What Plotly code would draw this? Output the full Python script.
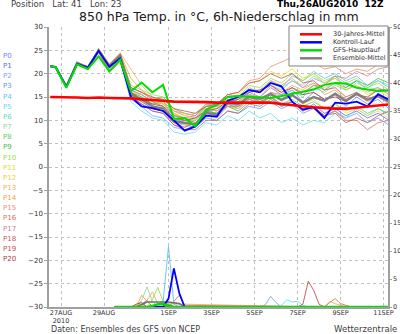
import plotly.graph_objects as go

# ---------------- data ----------------
HOURS = [0, 6, 18, 30, 42, 54, 66, 78, 90, 102, 114, 126, 138, 150, 162, 174, 186,
         198, 210, 222, 234, 246, 258, 270, 282, 294, 306, 318, 330, 342, 354, 366, 378]

TICK_HOURS = [12, 60, 132, 180, 228, 276, 324, 372]
TICK_TEXT = ["27AUG<br>2010", "29AUG", "1SEP", "3SEP", "5SEP", "7SEP", "9SEP", "11SEP"]

MEMBER_NAMES = ["P%d" % i for i in range(21)]
MEMBER_COLORS = ["#8080ff", "#6464f0", "#80a0ff", "#60a0f0", "#60c0ff", "#60e0f0",
                 "#60e0c0", "#90d8a0", "#60d060", "#40c040", "#98e048", "#e0e020",
                 "#f0d040", "#f0b060", "#f0a050", "#f08c70", "#e07060", "#d08080",
                 "#c06060", "#c05050", "#a04040"]

P0 = [21.6, 21.4, 17.2, 22.2, 21.3, 25.0, 21.7, 23.7, 15.0, 13.5, 12.0, 11.5, 9.0, 8.5, 9.5, 12.0, 11.5, 14.0, 13.0, 16.0, 15.0, 17.0, 15.5, 16.5, 14.0, 16.0, 14.5, 15.5, 13.0, 15.0, 13.5, 14.5, 12.5]
P1 = [21.6, 21.4, 17.2, 22.0, 21.1, 24.8, 21.4, 23.2, 16.0, 14.5, 13.0, 12.5, 10.5, 9.5, 10.0, 12.5, 12.0, 13.5, 12.5, 14.5, 13.5, 15.0, 13.0, 14.0, 12.0, 13.5, 11.5, 12.5, 11.0, 12.0, 10.5, 11.5, 10.0]
P2 = [21.6, 21.4, 17.3, 22.3, 21.4, 25.1, 21.9, 23.9, 14.5, 13.0, 11.0, 10.5, 8.5, 8.0, 9.0, 11.0, 10.5, 13.0, 12.5, 15.5, 15.0, 17.5, 16.5, 18.5, 17.0, 19.0, 18.0, 19.5, 17.0, 18.5, 16.5, 17.0, 15.5]
P3 = [21.6, 21.4, 17.1, 22.1, 21.2, 24.9, 21.5, 23.5, 15.5, 14.0, 12.5, 12.0, 9.5, 9.0, 8.5, 10.5, 10.0, 12.0, 11.5, 13.0, 12.5, 14.0, 12.5, 13.5, 11.5, 12.5, 11.0, 12.0, 10.5, 11.5, 9.5, 10.5, 9.0]
P4 = [21.6, 21.4, 17.2, 22.2, 21.3, 24.7, 21.0, 23.0, 16.5, 15.5, 14.0, 13.5, 11.0, 10.0, 10.5, 13.0, 12.5, 15.0, 14.5, 17.0, 16.0, 18.5, 17.0, 19.5, 18.5, 20.5, 19.0, 20.0, 18.5, 19.5, 17.5, 18.5, 17.0]
P5 = [21.6, 21.4, 17.2, 22.0, 21.0, 24.6, 20.8, 22.6, 14.0, 12.0, 10.5, 10.0, 7.5, 7.0, 7.5, 9.5, 9.0, 11.0, 10.0, 12.0, 10.5, 11.5, 9.5, 10.5, 9.0, 10.0, 9.5, 11.5, 10.5, 12.5, 11.0, 12.5, 11.0]
P6 = [21.6, 21.4, 17.3, 22.3, 21.4, 25.2, 22.0, 24.0, 15.0, 13.5, 12.5, 12.0, 10.0, 9.5, 10.0, 12.0, 11.5, 13.5, 13.0, 15.0, 14.5, 16.0, 15.0, 16.5, 15.0, 17.0, 16.0, 17.5, 16.5, 18.0, 17.0, 18.5, 17.5]
P7 = [21.6, 21.4, 17.2, 22.1, 21.2, 24.9, 21.6, 23.8, 16.5, 15.0, 14.0, 13.0, 11.5, 10.5, 10.0, 12.5, 12.0, 14.5, 14.0, 16.5, 16.0, 18.0, 17.0, 18.5, 17.5, 19.5, 18.0, 19.0, 17.5, 18.5, 16.5, 17.0, 16.0]
P8 = [21.6, 21.4, 17.1, 22.0, 21.3, 24.8, 21.3, 23.4, 17.0, 16.0, 14.5, 15.0, 12.5, 11.5, 11.0, 13.5, 13.0, 15.0, 14.0, 15.5, 14.0, 15.0, 13.5, 14.5, 13.0, 14.0, 12.5, 13.5, 12.0, 13.0, 11.5, 12.5, 11.5]
P9 = [21.6, 21.4, 17.2, 22.2, 21.1, 24.7, 21.2, 23.3, 16.0, 15.0, 13.5, 14.0, 11.0, 10.5, 9.5, 12.0, 11.5, 13.0, 12.0, 14.0, 13.5, 15.5, 14.5, 16.0, 15.5, 17.5, 16.5, 18.0, 17.0, 18.5, 17.5, 19.0, 18.0]
P10 = [21.6, 21.4, 17.3, 22.4, 21.5, 25.2, 21.8, 24.2, 17.5, 16.5, 15.5, 15.0, 12.0, 11.0, 11.5, 13.5, 13.5, 15.5, 15.0, 17.5, 17.0, 19.0, 18.0, 20.0, 18.5, 20.0, 18.5, 19.5, 18.0, 19.0, 17.0, 18.0, 16.5]
P11 = [21.6, 21.4, 17.2, 22.3, 21.3, 25.0, 21.5, 24.0, 16.0, 15.5, 14.0, 13.5, 11.5, 10.5, 10.0, 12.5, 12.5, 15.0, 15.5, 18.0, 18.5, 20.5, 19.5, 21.0, 19.0, 20.0, 18.0, 19.0, 16.5, 17.5, 15.5, 16.5, 15.0]
P12 = [21.6, 21.4, 17.1, 22.1, 21.2, 24.6, 21.0, 23.1, 15.5, 14.5, 13.0, 12.5, 10.0, 9.0, 9.0, 11.5, 11.0, 13.0, 12.5, 14.5, 14.0, 16.0, 14.5, 15.5, 13.5, 14.5, 12.5, 13.5, 11.5, 12.5, 11.0, 12.0, 10.5]
P13 = [21.6, 21.4, 17.3, 22.4, 21.6, 25.3, 22.1, 24.5, 21.0, 17.5, 15.0, 14.0, 12.0, 11.0, 10.5, 12.5, 12.0, 14.0, 13.5, 15.5, 15.0, 17.0, 16.0, 17.5, 16.5, 18.0, 17.0, 18.0, 16.5, 17.5, 16.0, 17.0, 15.5]
P14 = [21.6, 21.4, 17.2, 22.2, 21.4, 25.1, 21.6, 24.3, 19.0, 16.5, 14.5, 13.5, 11.5, 10.0, 9.5, 11.5, 11.0, 13.5, 14.0, 16.5, 16.5, 18.5, 17.5, 19.0, 17.0, 18.0, 15.5, 16.5, 14.5, 15.5, 14.0, 15.0, 13.5]
P15 = [21.6, 21.4, 17.2, 22.1, 21.3, 24.9, 21.4, 23.9, 17.0, 16.0, 14.5, 14.0, 12.0, 11.5, 11.0, 13.5, 13.5, 15.5, 16.0, 18.5, 19.0, 21.5, 22.5, 23.5, 22.0, 22.5, 21.0, 21.5, 20.0, 21.0, 20.5, 22.0, 22.5]
P16 = [21.6, 21.4, 17.1, 21.9, 20.9, 24.5, 20.4, 22.4, 15.5, 14.0, 12.5, 12.0, 9.5, 8.5, 9.5, 11.0, 11.5, 13.0, 13.0, 14.5, 14.0, 15.0, 13.5, 14.0, 12.5, 13.0, 11.0, 12.0, 10.0, 10.0, 8.0, 9.5, 10.0]
P17 = [21.6, 21.4, 17.2, 22.2, 21.3, 24.9, 21.7, 23.7, 16.5, 15.5, 14.0, 13.0, 11.0, 10.5, 11.0, 13.0, 13.0, 14.5, 13.5, 15.0, 14.0, 16.0, 15.5, 17.0, 16.0, 17.5, 17.5, 19.5, 19.0, 20.5, 19.5, 21.0, 21.5]
P18 = [21.6, 21.4, 17.2, 22.0, 21.0, 24.6, 20.6, 22.8, 15.0, 13.5, 12.0, 11.5, 9.0, 8.0, 8.0, 10.0, 10.0, 12.0, 11.5, 13.5, 13.0, 14.5, 13.0, 14.0, 12.0, 13.0, 11.0, 11.5, 9.5, 10.5, 9.5, 11.0, 12.0]
P19 = [21.6, 21.4, 17.3, 22.3, 21.5, 25.1, 21.9, 24.1, 17.0, 16.0, 15.0, 14.5, 12.5, 12.0, 11.5, 13.0, 13.5, 15.5, 16.0, 18.0, 18.5, 20.0, 19.0, 20.0, 18.0, 18.5, 16.5, 17.0, 15.0, 16.0, 14.5, 15.5, 14.0]
P20 = [21.6, 21.4, 17.2, 22.1, 21.2, 24.8, 21.2, 23.6, 16.0, 14.5, 13.5, 13.0, 10.5, 10.0, 10.5, 12.0, 12.5, 14.0, 14.5, 16.0, 16.5, 17.5, 16.0, 17.0, 15.5, 16.0, 14.5, 15.0, 14.0, 15.5, 15.0, 16.5, 16.5]
MEMBERS = [P0, P1, P2, P3, P4, P5, P6, P7, P8, P9, P10, P11, P12, P13, P14, P15, P16, P17, P18, P19, P20]

CLIMATE = [15.0, 15.0, 14.9, 14.9, 14.8, 14.9, 14.8, 14.8, 14.7, 14.5, 14.4, 14.2, 14.0, 14.0, 13.9, 13.9, 13.8, 13.8, 13.8, 13.7, 13.8, 13.8, 13.5, 13.2, 13.0, 12.8, 12.6, 12.5, 12.5, 12.7, 12.9, 13.2, 13.4]
CONTROL = [21.6, 21.4, 17.2, 22.1, 21.3, 24.9, 21.5, 23.3, 15.0, 13.0, 12.6, 12.0, 10.0, 7.8, 8.7, 11.0, 10.8, 14.2, 15.0, 16.5, 16.0, 18.0, 17.3, 14.0, 12.3, 12.8, 10.5, 13.8, 13.6, 14.0, 13.0, 15.6, 14.4]
GFS_MAIN = [21.6, 21.4, 17.0, 22.0, 21.0, 23.7, 20.5, 23.0, 16.2, 18.1, 16.0, 17.6, 10.3, 10.5, 8.7, 12.3, 13.3, 15.0, 15.2, 15.1, 15.0, 14.8, 15.2, 15.7, 16.2, 16.6, 17.6, 18.0, 17.9, 17.0, 16.6, 16.3, 16.4]
ENS_MEAN = [21.6, 21.4, 17.2, 22.3, 21.2, 25.0, 21.6, 23.9, 15.5, 14.5, 13.0, 12.5, 9.8, 9.5, 9.1, 11.6, 11.2, 13.7, 13.5, 15.0, 14.6, 15.6, 14.4, 15.4, 13.8, 15.0, 14.2, 15.7, 14.2, 15.7, 14.4, 15.2, 14.0]

# 6h precipitation (mm), right axis
PR_P1_H = [72, 96, 102, 108, 114, 378]
PR_P1 = [0, 0, 0.5, 1.2, 0, 0]
PR_P4_H = [72, 120, 126, 132, 138, 144, 378]
PR_P4 = [0, 0, 1.0, 10.8, 0.5, 0, 0]
PR_P2_H = [72, 234, 240, 246, 252, 258, 378]
PR_P2 = [0, 0, 0.4, 1.9, 0.8, 0, 0]
PR_P5_H = [72, 252, 258, 264, 270, 276, 282, 288, 378]
PR_P5 = [0, 0, 0.3, 1.3, 0.9, 1.0, 0.3, 0, 0]
PR_P7_H = [72, 96, 102, 108, 114, 120, 378]
PR_P7 = [0, 0, 1.2, 3.6, 1.0, 0, 0]
PR_P10_H = [72, 108, 114, 120, 126, 132, 378]
PR_P10 = [0, 0, 1.3, 3.5, 1.0, 0, 0]
PR_P9_H = [72, 114, 120, 126, 132, 138, 378]
PR_P9 = [0, 0, 0.5, 0.9, 0.6, 0, 0]
PR_P11_H = [72, 90, 96, 102, 108, 378]
PR_P11 = [0, 0, 0.3, 0.6, 0, 0]
PR_P13_H = [72, 102, 108, 114, 120, 306, 312, 318, 330, 378]
PR_P13 = [0, 0, 1.2, 2.7, 0.6, 0, 1.0, 0.6, 0, 0]
PR_P14_H = [72, 96, 102, 108, 114, 378]
PR_P14 = [0, 0, 2.1, 1.0, 0, 0]
PR_P16_H = [72, 132, 138, 144, 150, 306, 312, 318, 324, 336, 378]
PR_P16 = [0, 0, 1.0, 2.1, 0.3, 0, 0.8, 1.5, 0.6, 0, 0]
PR_P19_H = [72, 276, 282, 288, 294, 300, 306, 378]
PR_P19 = [0, 0, 0.5, 4.6, 3.0, 0.5, 0, 0]
PR_P20_H = [72, 90, 96, 102, 108, 378]
PR_P20 = [0, 0, 0.5, 0.8, 0, 0]
PR_MEAN_H = [72, 96, 108, 120, 132, 144, 150, 378]
PR_MEAN = [0, 0, 0.9, 0.9, 0.9, 0.6, 0, 0]
PR_CTRL_H = [72, 126, 132, 138, 144, 150, 378]
PR_CTRL = [0, 0, 1.5, 6.9, 2.5, 0, 0]
PR_GFS_H = [72, 108, 114, 120, 126, 132, 138, 378]
PR_GFS = [0, 0, 0.2, 0.5, 0.5, 0.3, 0, 0]

PRECIP_MEMBERS = [(1, PR_P1_H, PR_P1), (2, PR_P2_H, PR_P2), (5, PR_P5_H, PR_P5),
                  (7, PR_P7_H, PR_P7), (10, PR_P10_H, PR_P10), (9, PR_P9_H, PR_P9),
                  (11, PR_P11_H, PR_P11), (13, PR_P13_H, PR_P13), (14, PR_P14_H, PR_P14),
                  (16, PR_P16_H, PR_P16), (19, PR_P19_H, PR_P19), (20, PR_P20_H, PR_P20),
                  (4, PR_P4_H, PR_P4)]

LEGEND_LABELS = ["30-Jahres-Mittel", "Kontroll-Lauf", "GFS-Hauptlauf", "Ensemble-Mittel"]
LEGEND_COLORS = ["#ff0000", "#0000ff", "#00dd00", "#808080"]

# ---------------- layout helpers (pixel -> paper) ----------------
W, H = 400, 334
ML, MR, MT, MB = 49, 12, 27, 27
PW, PH = W - ML - MR, H - MT - MB


def px(x):
    return (x - ML) / PW


def py(y):
    return (H - MB - y) / PH


FONT = "DejaVu Sans"
TXT = "#303030"

fig = go.Figure()

for name, col, vals in zip(MEMBER_NAMES, MEMBER_COLORS, MEMBERS):
    fig.add_trace(go.Scatter(x=HOURS, y=vals, mode="lines", name=name,
                             line=dict(color=col, width=0.8), showlegend=False,
                             hoverinfo="skip"))

for idx, hh, vv in PRECIP_MEMBERS:
    fig.add_trace(go.Scatter(x=hh, y=vv, mode="lines", yaxis="y2",
                             line=dict(color=MEMBER_COLORS[idx], width=0.9),
                             showlegend=False, hoverinfo="skip"))

fig.add_trace(go.Scatter(x=PR_MEAN_H, y=PR_MEAN, mode="lines", yaxis="y2",
                         line=dict(color="#707070", width=1.6), showlegend=False))
fig.add_trace(go.Scatter(x=PR_CTRL_H, y=PR_CTRL, mode="lines", yaxis="y2",
                         line=dict(color="#0000ff", width=1.8), showlegend=False))
fig.add_trace(go.Scatter(x=PR_GFS_H, y=PR_GFS, mode="lines", yaxis="y2",
                         line=dict(color="#00dd00", width=2.5), showlegend=False))

fig.add_trace(go.Scatter(x=HOURS, y=ENS_MEAN, mode="lines", line=dict(color="#808080", width=2.4),
                         showlegend=False))
fig.add_trace(go.Scatter(x=HOURS, y=CONTROL, mode="lines", line=dict(color="#0000ff", width=1.8),
                         showlegend=False))
fig.add_trace(go.Scatter(x=HOURS, y=GFS_MAIN, mode="lines", line=dict(color="#00dd00", width=2.0),
                         showlegend=False))
fig.add_trace(go.Scatter(x=HOURS, y=CLIMATE, mode="lines", line=dict(color="#ff0000", width=2.6),
                         showlegend=False))

axis_common = dict(showline=True, linecolor="#a0a0a0", linewidth=1.5,
                   tickcolor="#a0a0a0", zeroline=False, automargin=False)

fig.update_layout(
    width=W, height=H, margin=dict(l=ML, r=MR, t=MT, b=MB, autoexpand=False),
    paper_bgcolor="white", plot_bgcolor="white", showlegend=False,
    xaxis=dict(range=[-1.4, 377], tickmode="array", tickvals=TICK_HOURS, ticktext=TICK_TEXT,
               showgrid=True, gridcolor="#c0c0c0", griddash="dot", gridwidth=1,
               ticks="", ticklabelstandoff=-2,
               tickfont=dict(family=FONT, size=6.5, color=TXT),
               layer="below traces", **axis_common),
    yaxis=dict(range=[-30, 30], tick0=-30, dtick=5, showgrid=True, gridcolor="#c0c0c0",
               griddash="dot", gridwidth=1, ticks="outside", ticklen=3,
               tickfont=dict(family=FONT, size=7, color=TXT), **axis_common),
    yaxis2=dict(range=[0, 50], tick0=0, dtick=5, overlaying="y", side="right",
                showgrid=False, ticks="outside", ticklen=2,
                tickfont=dict(family=FONT, size=6.5, color=TXT), **axis_common),
)

shapes = [dict(type="rect", xref="paper", yref="paper", x0=px(289), x1=px(388),
               y0=py(66), y1=py(26), fillcolor="white", line=dict(color="#808080", width=1),
               layer="above")]
annotations = []
for i, (lab, col) in enumerate(zip(LEGEND_LABELS, LEGEND_COLORS)):
    yy = 34.3 + 8 * i
    shapes.append(dict(type="line", xref="paper", yref="paper", x0=px(300), x1=px(322),
                       y0=py(yy), y1=py(yy), line=dict(color=col, width=2.5), layer="above"))
    annotations.append(dict(xref="paper", yref="paper", x=px(331), y=py(yy), text=lab,
                            showarrow=False, xanchor="left", yanchor="middle",
                            font=dict(family=FONT, size=6.5, color=TXT)))

for i, (name, col) in enumerate(zip(MEMBER_NAMES, MEMBER_COLORS)):
    annotations.append(dict(xref="paper", yref="paper", x=px(1), y=py(56 + 10.15 * i),
                            text=name, showarrow=False, xanchor="left", yanchor="middle",
                            font=dict(family=FONT, size=7, color=col)))

annotations += [
    dict(xref="paper", yref="paper", x=px(219), y=py(17),
         text="850 hPa Temp. in °C, 6h-Niederschlag in mm", showarrow=False,
         xanchor="center", yanchor="middle", font=dict(family=FONT, size=12.5, color="#202020")),
    dict(xref="paper", yref="paper", x=px(9), y=py(4), text="Position   Lat: 41   Lon: 23",
         showarrow=False, xanchor="left", yanchor="middle",
         font=dict(family=FONT, size=8.5, color="#404040")),
    dict(xref="paper", yref="paper", x=px(386), y=py(3.5), text="<b>Thu,26AUG2010  12Z</b>",
         showarrow=False, xanchor="right", yanchor="middle",
         font=dict(family=FONT, size=9, color="#000000")),
    dict(xref="paper", yref="paper", x=px(49), y=py(329),
         text="Daten: Ensembles des GFS von NCEP", showarrow=False, xanchor="left",
         yanchor="middle", font=dict(family=FONT, size=8, color="#404040")),
    dict(xref="paper", yref="paper", x=px(399), y=py(329), text="Wetterzentrale",
         showarrow=False, xanchor="right", yanchor="middle",
         font=dict(family=FONT, size=8.5, color="#404040")),
]

fig.update_layout(shapes=shapes, annotations=annotations)
fig.write_html("out.html")
